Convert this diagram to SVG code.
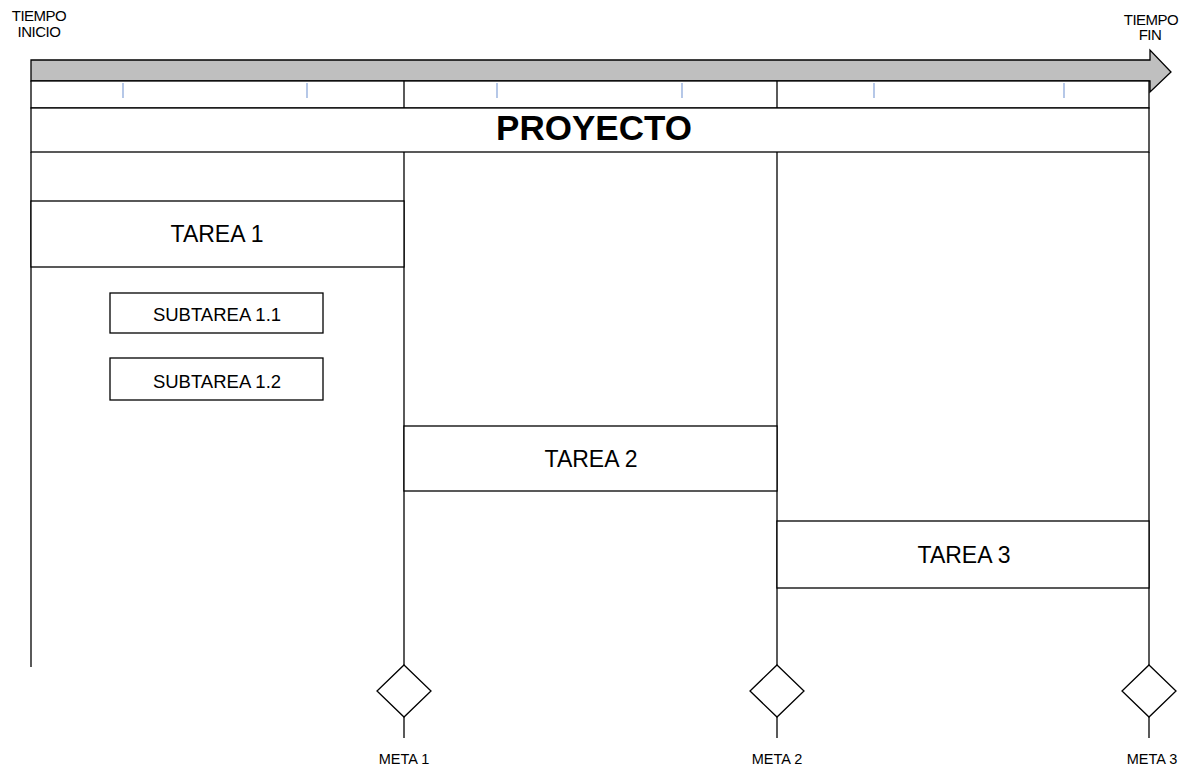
<svg xmlns="http://www.w3.org/2000/svg" width="1188" height="767" viewBox="0 0 1188 767">
<style>
.t{font-family:"Liberation Sans",Arial,sans-serif;fill:#000;text-anchor:middle}
.s{font-size:15px;letter-spacing:-0.5px}
.task{font-size:23px}
.sub{font-size:18.5px}
.meta{font-size:14.5px}
.ln{stroke:#000;stroke-width:1.3;fill:none}
.bx{stroke:#000;stroke-width:1.3;fill:#fff}
.tick{stroke:#8eaadb;stroke-width:1.3}
</style>
<rect width="1188" height="767" fill="#fff"/>
<g id="timeline">
<path d="M31,60 H1150 V50 L1171,72 L1150,92 V81 H31 Z" fill="#bfbfbf" stroke="#000" stroke-width="1.3"/>
<rect x="31" y="81" width="1118" height="27" class="bx"/>
<line x1="404" y1="81" x2="404" y2="108" class="ln"/>
<line x1="777" y1="81" x2="777" y2="108" class="ln"/>
<line x1="123" y1="83" x2="123" y2="98" class="tick"/>
<line x1="307" y1="83" x2="307" y2="98" class="tick"/>
<line x1="497" y1="83" x2="497" y2="98" class="tick"/>
<line x1="682" y1="83" x2="682" y2="98" class="tick"/>
<line x1="874" y1="83" x2="874" y2="98" class="tick"/>
<line x1="1064" y1="83" x2="1064" y2="98" class="tick"/>
<text class="t s" x="39" y="21">TIEMPO</text>
<text class="t s" x="39" y="37">INICIO</text>
<text class="t s" x="1151" y="25">TIEMPO</text>
<text class="t s" x="1150" y="40">FIN</text>
</g>
<g id="proyecto">
<rect x="31" y="108" width="1118" height="44" class="bx"/>
<text class="t" x="594" y="140" font-size="35" font-weight="bold">PROYECTO</text>
</g>
<g id="connectors">
<line x1="31" y1="152" x2="31" y2="667" class="ln"/>
<line x1="404" y1="152" x2="404" y2="665" class="ln"/>
<line x1="777" y1="152" x2="777" y2="665" class="ln"/>
<line x1="1149" y1="152" x2="1149" y2="665" class="ln"/>
<line x1="404" y1="717" x2="404" y2="738" class="ln"/>
<line x1="777" y1="717" x2="777" y2="738" class="ln"/>
<line x1="1149" y1="717" x2="1149" y2="738" class="ln"/>
</g>
<g id="tarea1">
<rect x="31" y="201" width="373" height="66" class="bx"/>
<text class="t task" x="217" y="242">TAREA 1</text>
</g>
<g id="subtarea11">
<rect x="110" y="293" width="213" height="40" class="bx"/>
<text class="t sub" x="217" y="321">SUBTAREA 1.1</text>
</g>
<g id="subtarea12">
<rect x="110" y="358" width="213" height="42" class="bx"/>
<text class="t sub" x="217" y="388">SUBTAREA 1.2</text>
</g>
<g id="tarea2">
<rect x="404" y="426" width="373" height="65" class="bx"/>
<text class="t task" x="591" y="467">TAREA 2</text>
</g>
<g id="tarea3">
<rect x="777" y="521" width="372" height="67" class="bx"/>
<text class="t task" x="964" y="563">TAREA 3</text>
</g>
<g id="meta1">
<path d="M404,665 L431,691 L404,717 L377,691 Z" class="bx"/>
<text class="t meta" x="404" y="764">META 1</text>
</g>
<g id="meta2">
<path d="M777,665 L804,691 L777,717 L750,691 Z" class="bx"/>
<text class="t meta" x="777" y="764">META 2</text>
</g>
<g id="meta3">
<path d="M1149,665 L1176,691 L1149,717 L1122,691 Z" class="bx"/>
<text class="t meta" x="1152" y="764">META 3</text>
</g>
</svg>
